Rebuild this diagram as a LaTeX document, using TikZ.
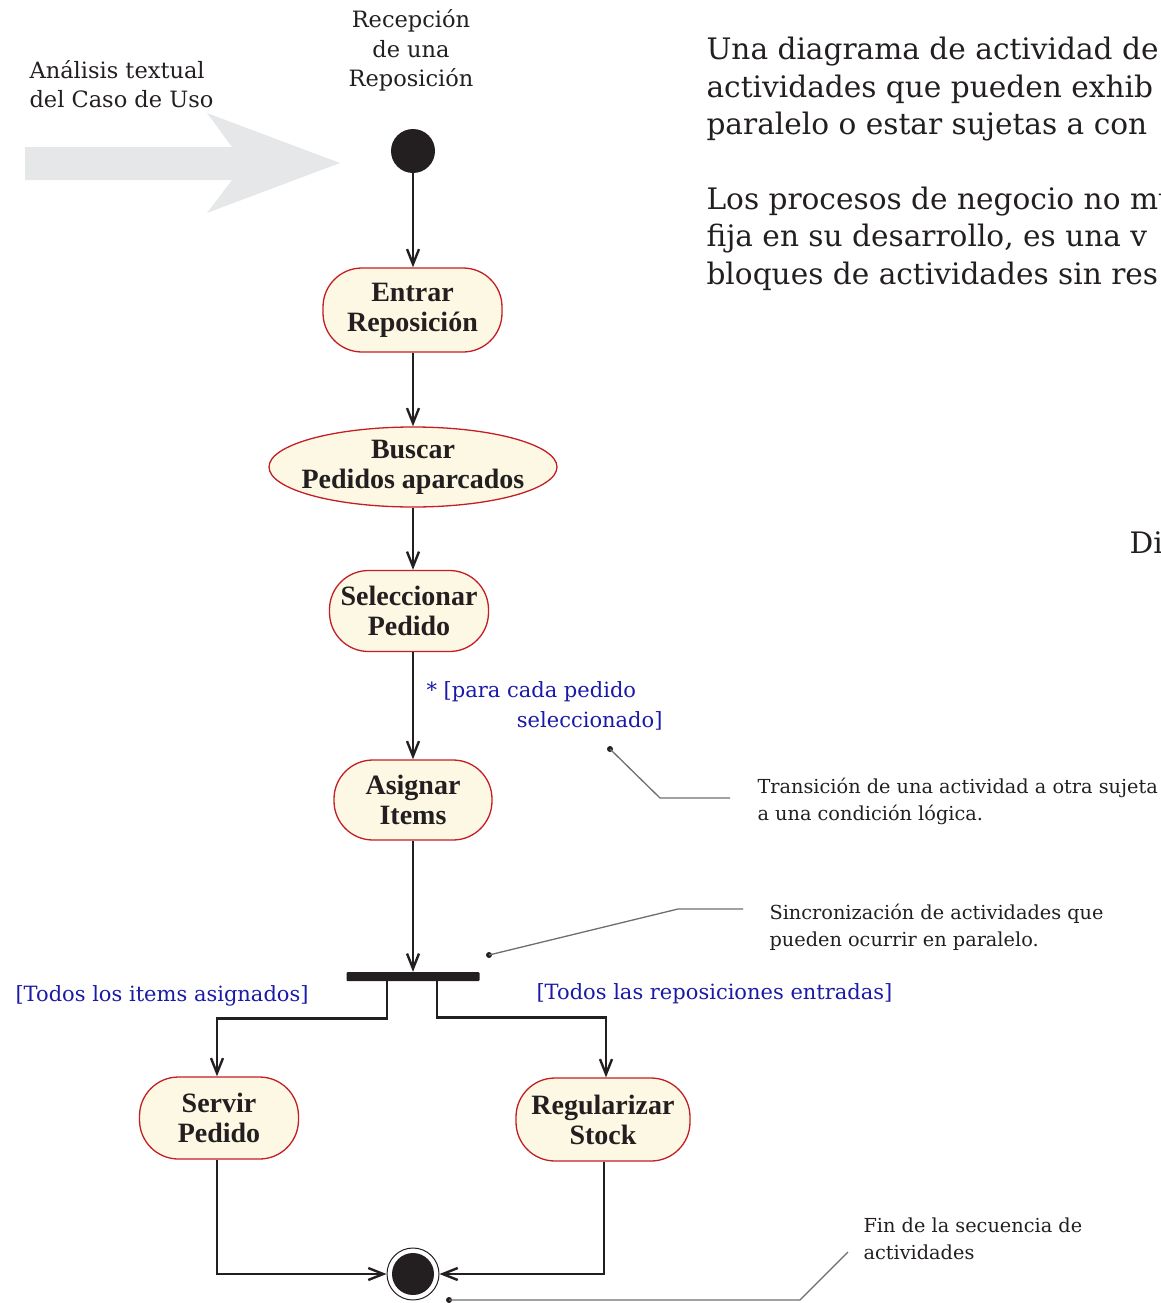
\documentclass[tikz,border=0pt]{standalone}
\usepackage{fontspec}
\setmainfont{Liberation Serif}
\newfontfamily\widefont{DejaVu Serif}
\usetikzlibrary{arrows.meta,shapes.geometric,calc}
\definecolor{ink}{HTML}{231F20}
\definecolor{nodefill}{HTML}{FDF8E4}
\definecolor{nodeborder}{HTML}{C41E24}
\definecolor{guard}{HTML}{1A1AA6}
\definecolor{bigarrow}{HTML}{E6E7E8}
\definecolor{noteline}{HTML}{6D6E70}
\tikzset{
  act/.style={draw=nodeborder, line width=1.3pt, fill=nodefill, rounded corners=39pt,
    align=center, inner sep=0pt, text=ink,
    font=\fontsize{28}{30}\selectfont\bfseries},
  flow/.style={draw=ink, line width=2.8pt, -{Straight Barb[length=15pt,width=12pt,line width=2.4pt]}},
  note/.style={draw=noteline, line width=1.3pt},
  notetext/.style={anchor=base west, align=left, text=ink, font=\widefont\fontsize{19.3}{26.5}\selectfont},
  guardtext/.style={text=guard, font=\widefont\fontsize{21}{30}\selectfont},
  bodytext/.style={anchor=base west, align=left, text=ink, font=\widefont\fontsize{29.6}{37.5}\selectfont},
  labeltext/.style={text=ink, font=\widefont\fontsize{22.5}{29.5}\selectfont},
}
\begin{document}
\begin{tikzpicture}[x=1pt,y=-1pt]
\useasboundingbox (0,0) rectangle (1161,1303);
\clip (0,0) rectangle (1161,1303);

% big gray arrow
\fill[bigarrow] (25,147) -- (232,147) -- (207,113) -- (340,163) -- (207,213) -- (232,180) -- (25,180) -- cycle;
\node[labeltext, anchor=base west, align=left] (analisis) at (26,108) {Análisis textual\\del Caso de Uso};

% start
\node[labeltext, anchor=base, align=center] (recep) at (411,87) {Recepción\\de una\\Reposición};
\node[circle, fill=ink, minimum size=44pt, inner sep=0pt] (start) at (413,151) {};

% activities
\node[act, minimum width=179pt, minimum height=84pt] (entrar) at (412.5,310) {Entrar\\Reposición};
\node[act, ellipse, minimum width=288pt, minimum height=80pt, inner xsep=-25pt, inner ysep=-6pt] (buscar) at (413,467) {Buscar\\Pedidos aparcados};
\node[act, minimum width=159pt, minimum height=81pt] (selec) at (409,611) {Seleccionar\\Pedido};
\node[act, minimum width=158pt, minimum height=80pt] (asignar) at (413,800) {Asignar\\Items};
\node[rectangle, fill=ink, minimum width=133pt, minimum height=9pt, inner sep=0pt, rounded corners=1pt] (bar) at (413,976.5) {};
\node[act, minimum width=159pt, minimum height=82pt] (servir) at (219,1118) {Servir\\Pedido};
\node[act, minimum width=174pt, minimum height=83pt] (regul) at (603,1119.5) {Regularizar\\Stock};
\node[circle, draw=ink, line width=1pt, minimum size=52pt, inner sep=0pt] (final) at (413,1274) {};
\fill[ink] (final.center) circle (21pt);

% flows
\draw[flow] (start) -- (start.center |- entrar.north);
\draw[flow] (entrar.south -| buscar.north) -- (buscar.north);
\draw[flow] (buscar.south) -- (buscar.south |- selec.north);
\draw[flow] (selec.south -| asignar.north) -- (asignar.north);
\draw[flow] (asignar.south) -- (bar.north);
\draw[flow] ([xshift=-26pt]bar.south) -- ++(0,37) -| ([xshift=-2pt]servir.north);
\draw[flow] ([xshift=24pt]bar.south) -- ++(0,36) -| ([xshift=3pt]regul.north);
\draw[flow] ([xshift=-2pt]servir.south) |- (final.west);
\draw[flow] ([xshift=1pt]regul.south) |- (final.east);

% guards
\node[guardtext, anchor=base west, align=left] (g1) at (423,697) {* [para cada pedido};
\node[guardtext, anchor=base east] (g2) at (666,727) {seleccionado]};
\node[guardtext, anchor=base west] (g3) at (12,1001) {[Todos los items asignados]};
\node[guardtext, anchor=base west] (g4) at (533,999) {[Todos las reposiciones entradas]};

% notes
\coordinate (n1a) at (610,749);
\coordinate (n1b) at (660,798);
\coordinate (n1c) at (730,798);
\fill[ink] (n1a) circle (3pt);
\draw[note] (n1a) -- (n1b) -- (n1c);
\node[notetext] (t1) at (754,820) {Transición de una actividad a otra sujeta\\a una condición lógica.};

\coordinate (n2a) at (489,955);
\coordinate (n2b) at (678,909);
\coordinate (n2c) at (743,909);
\fill[ink] (n2a) circle (3pt);
\draw[note] (n2a) -- (n2b) -- (n2c);
\node[notetext] (t2) at (766,946) {Sincronización de actividades que\\pueden ocurrir en paralelo.};

\coordinate (n3a) at (449,1300);
\coordinate (n3b) at (800,1300);
\coordinate (n3c) at (848,1252);
\fill[ink] (n3a) circle (3pt);
\draw[note] (n3a) -- (n3b) -- (n3c);
\node[notetext] (t3) at (860,1259) {Fin de la secuencia de\\actividades};

% body text
\node[bodytext] (p1) at (703,135) {Una diagrama de actividad de\\actividades que pueden exhib\\paralelo o estar sujetas a con};
\node[bodytext] (p2) at (703,284) {Los procesos de negocio no mu\\fija en su desarrollo, es una v\\bloques de actividades sin res};
\node[bodytext] (di) at (1126,553) {Di};
\end{tikzpicture}
\end{document}
